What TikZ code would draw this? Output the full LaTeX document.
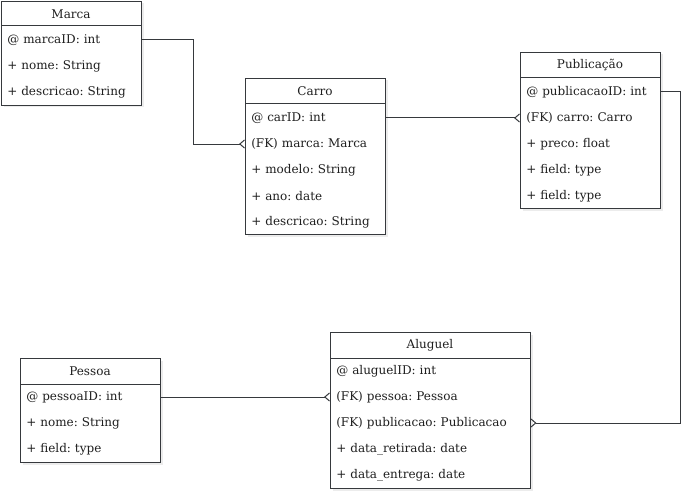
\documentclass[tikz,border=0pt]{standalone}
\usepackage{fontspec}
\setmainfont{DejaVu Serif}
\frenchspacing
\usetikzlibrary{arrows.meta,shadows}
\definecolor{linegray}{HTML}{36393D}
\definecolor{textgray}{HTML}{1F1F1F}
\tikzset{
	entity/.style={draw=linegray,line width=0.75pt,fill=white,anchor=north west,inner sep=0pt,
		drop shadow={shadow xshift=1.5pt,shadow yshift=-1.5pt,opacity=0.15}},
	headtext/.style={text=textgray,font=\fontsize{9}{11}\selectfont},
	field/.style={anchor=west,inner xsep=4.5pt,inner ysep=0pt,text width=#1,align=left,
		text=textgray,font=\fontsize{9}{11}\selectfont},
	link/.style={draw=linegray,line width=0.75pt,-{Straight Barb[reversed,length=3.5pt,width=6pt]}}
}
\begin{document}
\begin{tikzpicture}[x=0.75pt,y=-0.75pt]
		\useasboundingbox (0,0) rectangle (700,503);
		
		% Marca
		\node[entity,minimum width=140*0.75pt,minimum height=104*0.75pt] (marca) at (1,1){};
		\draw[linegray,line width=0.75pt] (1,26) -- (141,26);
		\node[headtext] (marcaH) at (71,14){Marca};
		\foreach \t[count=\i] in {@ marcaID: int,+ nome: String,+ descricao: String}{
			\node[field=96pt] (marca\i) at (1,14+26*\i){\t};
		}
		
		% Carro
		\node[entity,minimum width=140*0.75pt,minimum height=156*0.75pt] (carro) at (245,78){};
		\draw[linegray,line width=0.75pt] (245,104) -- (385,104);
		\node[headtext] (carroH) at (315,91){Carro};
		\foreach \t[count=\i] in {@ carID: int,(FK) marca: Marca,+ modelo: String,+ ano: date,+ descricao: String}{
			\node[field=96pt] (carro\i) at (245,92+26*\i){\t};
		}
		
		% Publicacao
		\node[entity,minimum width=140*0.75pt,minimum height=156*0.75pt] (publ) at (520,52){};
		\draw[linegray,line width=0.75pt] (520,78) -- (660,78);
		\node[headtext] (publH) at (590,65){Publicação};
		\foreach \t[count=\i] in {@ publicacaoID: int,(FK) carro: Carro,+ preco: float,+ field: type,+ field: type}{
			\node[field=96pt] (publ\i) at (520,66+26*\i){\t};
		}
		
		% Pessoa
		\node[entity,minimum width=140*0.75pt,minimum height=104*0.75pt] (pessoa) at (20,358){};
		\draw[linegray,line width=0.75pt] (20,384) -- (160,384);
		\node[headtext] (pessoaH) at (90,371){Pessoa};
		\foreach \t[count=\i] in {@ pessoaID: int,+ nome: String,+ field: type}{
			\node[field=96pt] (pessoa\i) at (20,371+26*\i){\t};
		}
		
		% Aluguel
		\node[entity,minimum width=200*0.75pt,minimum height=156*0.75pt] (aluguel) at (330,332){};
		\draw[linegray,line width=0.75pt] (330,358) -- (530,358);
		\node[headtext] (aluguelH) at (430,345){Aluguel};
		\foreach \t[count=\i] in {@ aluguelID: int,(FK) pessoa: Pessoa,(FK) publicacao: Publicacao,+ data\_retirada: date,+ data\_entrega: date}{
			\node[field=141pt] (aluguel\i) at (330,345+26*\i){\t};
		}
		
		\draw[link] (marca1.east) -- ++(52,0) |- (carro2.west);
		\draw[link] (carro1.east) -- (publ2.west);
		\draw[link] (publ1.east) -- ++(20,0) |- (aluguel3.east);
		\draw[link] (pessoa1.east) -- (aluguel2.west);
\end{tikzpicture}
\end{document}
